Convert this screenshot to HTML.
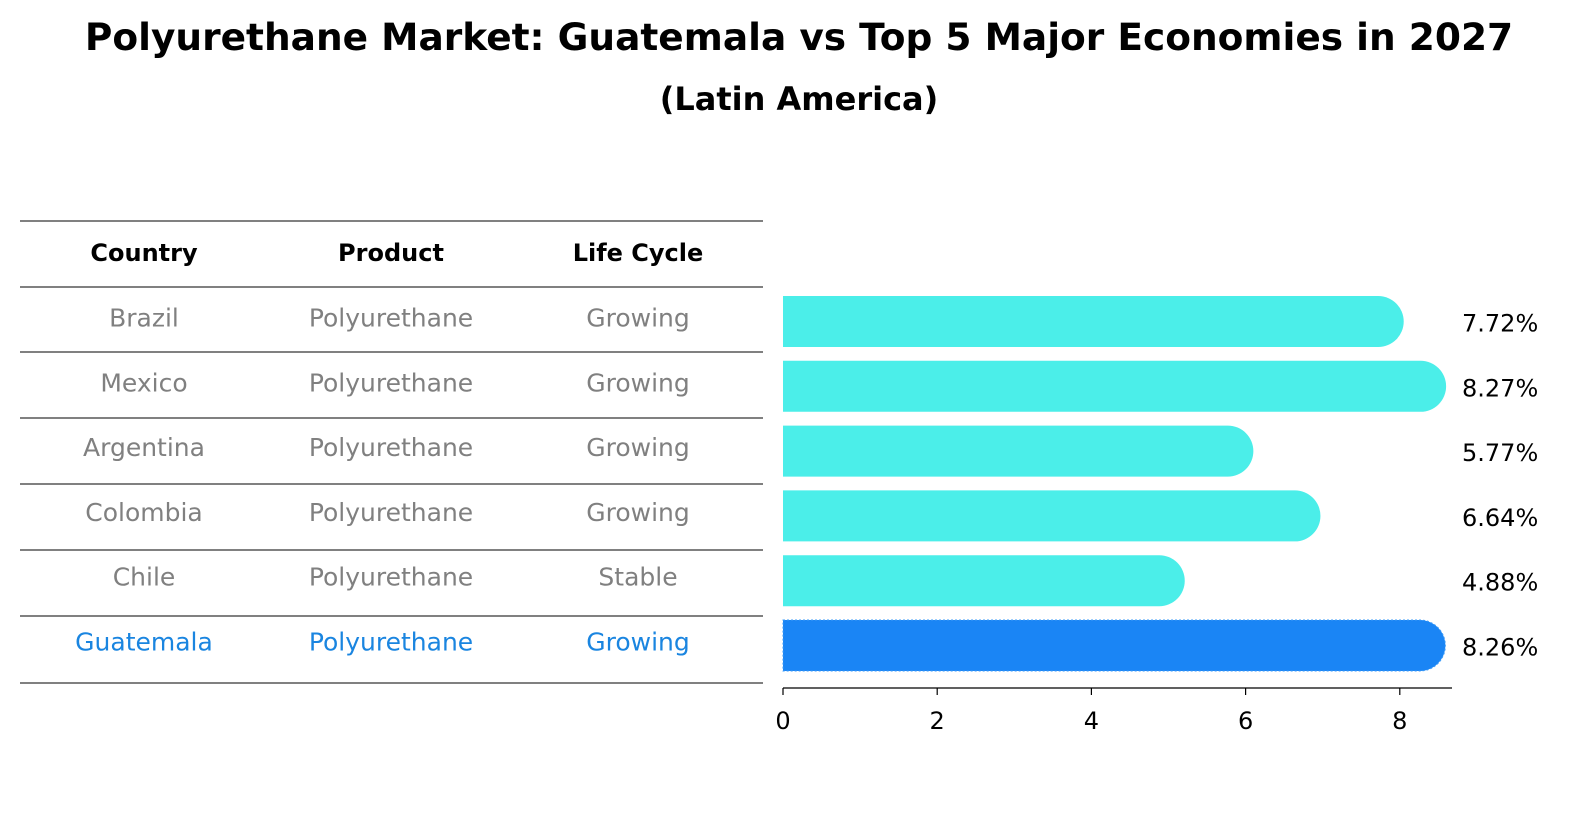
<!DOCTYPE html>
<html><head><meta charset="utf-8"><style>
body{margin:0;background:#fff;}
svg text{font-family:"DejaVu Sans","Liberation Sans",sans-serif;}
</style></head><body>
<svg id="chart" width="1586" height="823" viewBox="0 0 1586 823" xmlns="http://www.w3.org/2000/svg">
<text x="799" y="50" text-anchor="middle" font-size="37.5" font-weight="bold">Polyurethane Market: Guatemala vs Top 5 Major Economies in 2027</text>
<text x="799" y="110" text-anchor="middle" font-size="32" font-weight="bold">(Latin America)</text>
<g id="table"></g>
<g id="bars"></g>
</svg>
<script>
const countries=["Brazil","Mexico","Argentina","Colombia","Chile","Guatemala"];
const products=["Polyurethane","Polyurethane","Polyurethane","Polyurethane","Polyurethane","Polyurethane"];
const lifecycles=["Growing","Growing","Growing","Growing","Stable","Growing"];
const values=[7.72,8.27,5.77,6.64,4.88,8.26];
const ticks=[0,2,4,6,8];
const NS="http://www.w3.org/2000/svg";
function mk(tag,attrs,parent,txt){const e=document.createElementNS(NS,tag);for(const k in attrs)e.setAttribute(k,attrs[k]);if(txt!==undefined)e.textContent=txt;parent.appendChild(e);return e;}
const x=v=>783+v*77.1;
const y=i=>321.5+i*64.8;
const table=document.getElementById('table');
const lines=[221,287,352,418,484,550,616,683];
lines.forEach(ly=>{const l=mk('line',{x1:20,x2:763,y1:ly,y2:ly,stroke:'#000','stroke-width':1},table);

});
const cols=[144,391,638];
["Country","Product","Life Cycle"].forEach((h,j)=>{const t=mk('text',{x:cols[j],y:261,'text-anchor':'middle','font-size':24,'font-weight':'bold'},table,h);

});
countries.forEach((c,i)=>{const col=i===5?'#1a85e0':'#808080';const cy=y(i);
[c,products[i],lifecycles[i]].forEach((v,j)=>{const t=mk('text',{x:cols[j],y:cy+5,'text-anchor':'middle','font-size':25,fill:col},table,v);

});});
const bars=document.getElementById('bars');
const h=51;
values.forEach((v,i)=>{const cy=y(i);const col=i===5?'#1a85f5':'#4beee9';
const g=mk('g',{},bars);


const x0=x(0),x1=x(v),r=h/2;
const d=`M${x0},${cy-r} L${x1},${cy-r} A${r},${r} 0 0 1 ${x1},${cy+r} L${x0},${cy+r} Z`;
mk('path',{d:d,fill:col,stroke:i===5?'#3d9cf8':'none','stroke-width':1,'stroke-dasharray':i===5?'2,2':'none'},g);
const t=mk('text',{x:1462,y:cy+10,'font-size':24},bars,v.toFixed(2)+'%');

});
const ax=mk('line',{x1:x(0),x2:1452,y1:688,y2:688,stroke:'#000','stroke-width':1.3},bars);


ticks.forEach(t=>{const tk=mk('line',{x1:x(t),x2:x(t),y1:688,y2:695,stroke:'#000','stroke-width':1.2},bars);


const tl=mk('text',{x:x(t),y:729,'text-anchor':'middle','font-size':24},bars,String(t));

});
</script>
</body></html>
